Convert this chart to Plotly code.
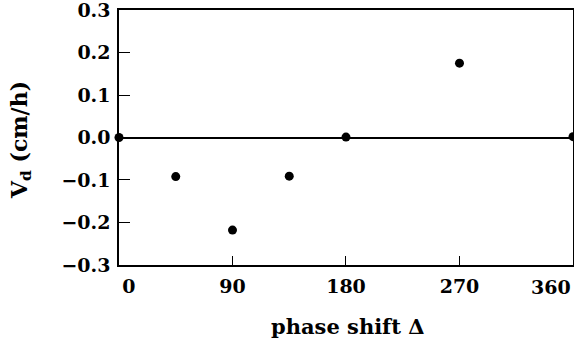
import plotly.graph_objects as go

phase = [0, 45, 90, 135, 180, 270, 360]
vd = [0.0, -0.092, -0.218, -0.091, 0.001, 0.175, 0.002]

x_ticks = [0, 90, 180, 270, 360]
NB = "\u00a0"
x_ticktext = [NB * 3 + "0", "90", "180", "270", ""]
last_x_label = "360"
y_ticks = [-0.3, -0.2, -0.1, 0.0, 0.1, 0.2, 0.3]

FONT = "DejaVu Serif"

fig = go.Figure()
fig.add_trace(go.Scatter(
    x=phase, y=vd, mode="markers",
    marker=dict(color="black", size=9),
    cliponaxis=False, showlegend=False,
))

fig.update_layout(
    width=574, height=341,
    margin=dict(l=119, r=1, t=10, b=76),
    paper_bgcolor="white", plot_bgcolor="white",
    font=dict(family=FONT, size=19, color="black"),
)
fig.update_xaxes(
    range=[0, 360.01], tickmode="array", tickvals=x_ticks, ticktext=x_ticktext,
    ticks="inside", ticklen=9, tickwidth=1.2, tickcolor="black",
    showline=True, linecolor="black", linewidth=1.5, mirror=True,
    showgrid=False, zeroline=False, ticklabeloverflow="allow",
    ticklabelstandoff=3, automargin=False,
    tickfont=dict(family=FONT, size=19, weight="bold"),
)
fig.update_yaxes(
    range=[-0.3001, 0.3001], tickmode="array", tickvals=y_ticks, tickformat=".1f",
    ticks="inside", ticklen=11, tickwidth=1.2, tickcolor="black",
    showline=True, linecolor="black", linewidth=1.5, mirror=True,
    showgrid=False, zeroline=True, zerolinecolor="black", zerolinewidth=1.5,
    ticklabeloverflow="allow", ticklabelstandoff=3, automargin=False,
    tickfont=dict(family=FONT, size=19, weight="bold"),
)

fig.add_annotation(
    text=f"<b>{last_x_label}</b>", xref="x", yref="paper",
    x=x_ticks[-1], y=-0.0863, xanchor="right", yanchor="middle",
    showarrow=False, font=dict(family=FONT, size=19),
)
fig.add_annotation(
    text="<b>phase shift Δ</b>", xref="paper", yref="paper",
    x=0.504, y=-0.243, xanchor="center", yanchor="middle",
    showarrow=False, font=dict(family=FONT, size=21),
)
fig.add_annotation(
    text="<b>V<sub>d</sub> (cm/h)</b>", xref="paper", yref="paper",
    x=-0.216, y=0.49, xanchor="center", yanchor="middle", textangle=-90,
    showarrow=False, font=dict(family=FONT, size=22),
)

fig.write_html("out.html")
